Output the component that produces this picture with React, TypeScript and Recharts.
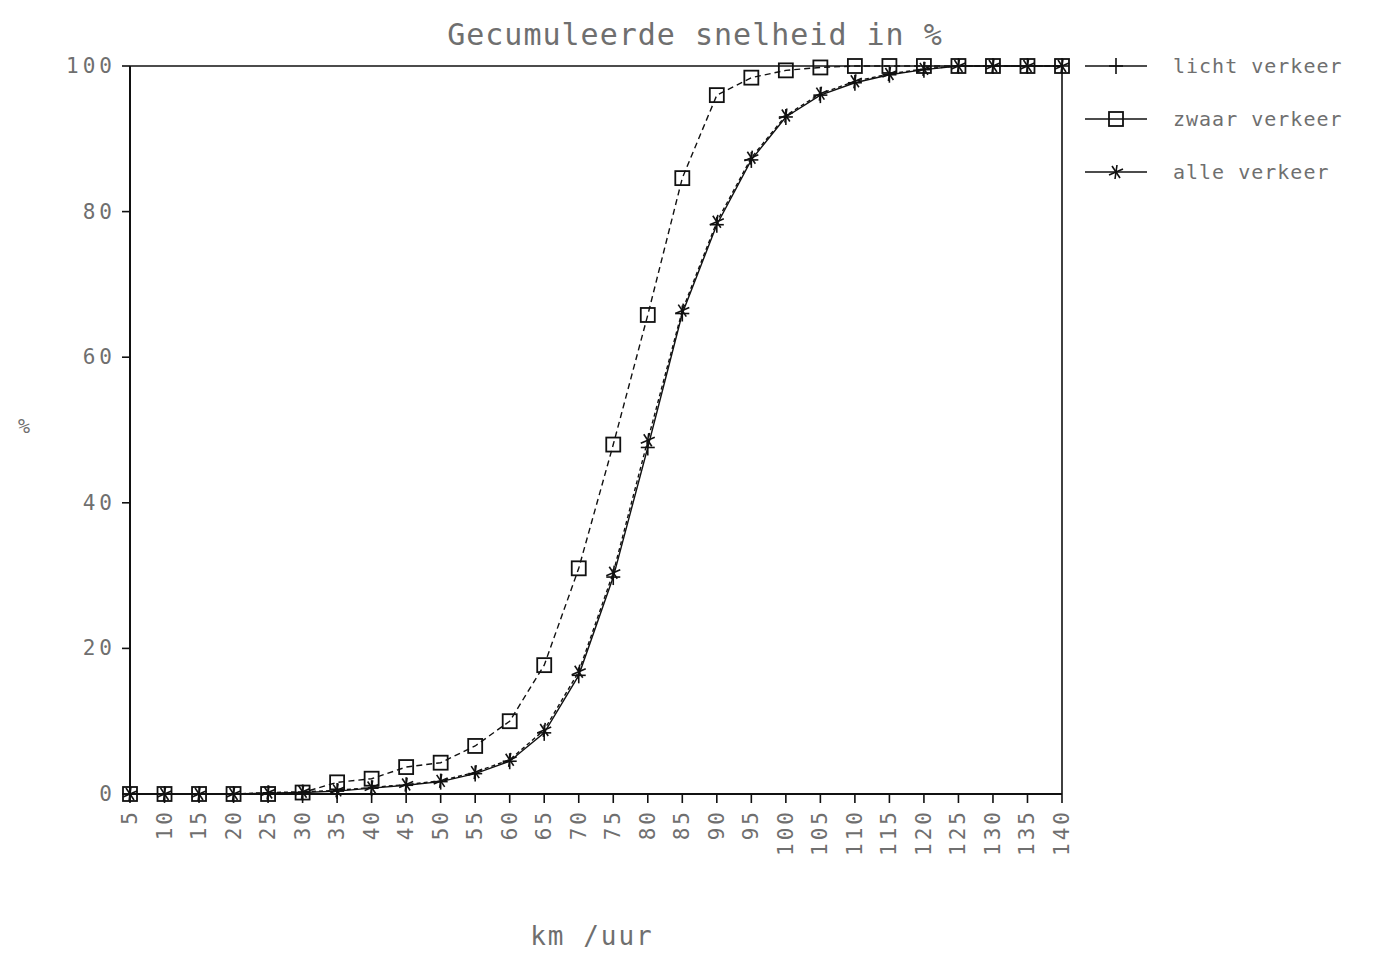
import { LineChart, Line, XAxis, YAxis, ReferenceLine, Legend } from 'recharts'

const speeds = ['5', '10', '15', '20', '25', '30', '35', '40', '45', '50', '55', '60', '65', '70', '75', '80', '85', '90', '95', '100', '105', '110', '115', '120', '125', '130', '135', '140']
const licht = [0, 0, 0, 0, 0.1, 0.2, 0.4, 0.8, 1.2, 1.7, 2.8, 4.5, 8.4, 16.3, 29.8, 47.6, 66, 78.2, 87.1, 93, 96, 97.7, 98.8, 99.5, 100, 100, 100, 100]
const zwaar = [0, 0, 0, 0, 0, 0.2, 1.6, 2.1, 3.7, 4.3, 6.6, 10, 17.7, 31, 48, 65.8, 84.6, 96, 98.4, 99.4, 99.8, 100, 100, 100, 100, 100, 100, 100]
const alle = [0, 0, 0, 0, 0.2, 0.3, 0.5, 0.9, 1.3, 1.8, 3, 4.7, 8.8, 16.8, 30.4, 48.6, 66.4, 78.6, 87.4, 93.2, 96.2, 97.9, 98.9, 99.6, 100, 100, 100, 100]
const yTicks = [0, 20, 40, 60, 80, 100]

const seriesNames = ['licht verkeer', 'zwaar verkeer', 'alle verkeer']

const data = speeds.map((s, i) => ({ speed: s, licht: licht[i], zwaar: zwaar[i], alle: alle[i] }))

const INK = '#111'
const TEXT = '#6f6f6f'
const FONT = '"DejaVu Sans Mono", "Liberation Mono", monospace'

function CrossDot(props: any) {
  const { cx, cy } = props
  if (cx == null || cy == null) return null
  return (
    <g stroke={INK} strokeWidth={1.6}>
      <line x1={cx - 7} y1={cy} x2={cx + 7} y2={cy} />
      <line x1={cx} y1={cy - 8} x2={cx} y2={cy + 8} />
    </g>
  )
}

function SquareDot(props: any) {
  const { cx, cy } = props
  if (cx == null || cy == null) return null
  return <rect x={cx - 7} y={cy - 7} width={14} height={14} fill="#fff" fillOpacity={0} stroke={INK} strokeWidth={1.8} />
}

function StarDot(props: any) {
  const { cx, cy } = props
  if (cx == null || cy == null) return null
  return (
    <g stroke={INK} strokeWidth={1.6}>
      <line x1={cx - 7} y1={cy + 3} x2={cx + 7} y2={cy - 3} />
      <line x1={cx - 4} y1={cy - 6} x2={cx + 4} y2={cy + 6} />
      <line x1={cx + 1} y1={cy - 7} x2={cx - 1} y2={cy + 7} />
    </g>
  )
}

function XTick(props: any) {
  const { x, y, payload } = props
  return (
    <text
      x={x}
      y={y + 4}
      transform={`rotate(-90 ${x} ${y + 4})`}
      textAnchor="end"
      dominantBaseline="central"
      fill={TEXT}
      fontFamily={FONT}
      fontSize={21}
      letterSpacing={3}
    >
      {payload.value}
    </text>
  )
}

function YTick(props: any) {
  const { x, y, payload } = props
  return (
    <text x={x - 4} y={y} textAnchor="end" dominantBaseline="central" fill={TEXT} fontFamily={FONT} fontSize={21} letterSpacing={4}>
      {payload.value}
    </text>
  )
}

function LegendBox() {
  const icons = [CrossDot, SquareDot, StarDot]
  return (
    <svg width={300} height={140}>
      {seriesNames.map((name, i) => {
        const Icon = icons[i]
        const y = 12 + i * 53
        return (
          <g key={name}>
            <line x1={0} y1={y} x2={62} y2={y} stroke={INK} strokeWidth={1.6} />
            <Icon cx={31} cy={y} />
            <text x={88} y={y} dominantBaseline="central" fill={TEXT} fontFamily={FONT} fontSize={20} letterSpacing={1}>
              {name}
            </text>
          </g>
        )
      })}
    </svg>
  )
}

export default function App() {
  return (
    <div style={{ position: 'absolute', left: 0, top: 0, width: 1386, height: 954, background: '#fff' }}>
      <LineChart width={1386} height={954} data={data} margin={{ top: 66, right: 24, bottom: 90, left: 70 }}>
        <text x={695} y={34} textAnchor="middle" dominantBaseline="central" fill={TEXT} fontFamily={FONT} fontSize={30} letterSpacing={1}>
          Gecumuleerde snelheid in %
        </text>
        <text x={24} y={426} textAnchor="middle" dominantBaseline="central" fill={TEXT} fontFamily={FONT} fontSize={20}>
          %
        </text>
        <text x={592} y={936} textAnchor="middle" dominantBaseline="central" fill={TEXT} fontFamily={FONT} fontSize={26} letterSpacing={2}>
          km /uur
        </text>
        <XAxis
          dataKey="speed"
          height={70}
          interval={0}
          tick={<XTick />}
          tickSize={9}
          axisLine={{ stroke: INK, strokeWidth: 2 }}
          tickLine={{ stroke: INK, strokeWidth: 1.6 }}
        />
        <YAxis
          width={60}
          domain={[0, 100]}
          ticks={yTicks}
          tick={<YTick />}
          tickSize={8}
          axisLine={{ stroke: INK, strokeWidth: 2 }}
          tickLine={{ stroke: INK, strokeWidth: 1.6 }}
        />
        <ReferenceLine y={100} stroke={INK} strokeWidth={1.6} />
        <ReferenceLine x="140" stroke={INK} strokeWidth={1.6} />
        <Legend layout="vertical" verticalAlign="top" align="right" content={<LegendBox />} wrapperStyle={{ top: 54, left: 1085, width: 300 }} />
        <Line dataKey="licht" name={seriesNames[0]} stroke={INK} strokeWidth={1.4} dot={<CrossDot />} isAnimationActive={false} />
        <Line dataKey="zwaar" name={seriesNames[1]} stroke={INK} strokeWidth={1.4} strokeDasharray="6 4" dot={<SquareDot />} isAnimationActive={false} />
        <Line dataKey="alle" name={seriesNames[2]} stroke={INK} strokeWidth={1.4} strokeDasharray="4 3" dot={<StarDot />} isAnimationActive={false} />
      </LineChart>
    </div>
  )
}
